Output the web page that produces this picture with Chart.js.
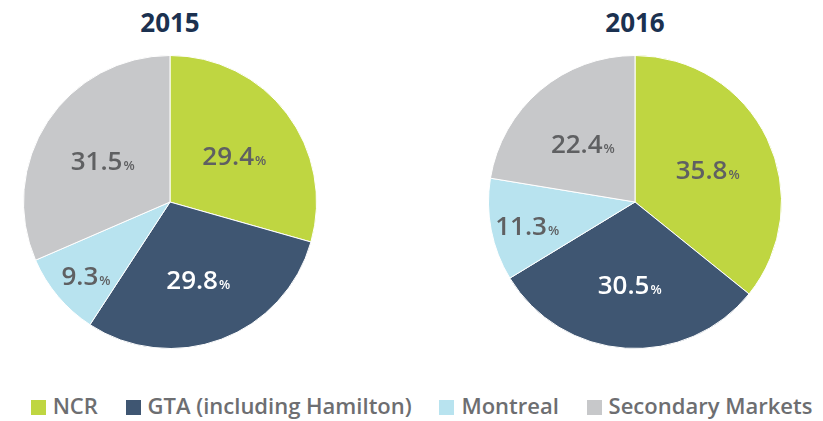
<!DOCTYPE html>
<html>
<head>
<meta charset="utf-8">
<script src="https://cdn.jsdelivr.net/npm/chart.js@4.4.1/dist/chart.umd.min.js"></script>
<style>
  html, body { margin: 0; padding: 0; background: #fff; }
  body { width: 823px; height: 421px; position: relative; overflow: hidden; font-family: "Open Sans", sans-serif; }
  .title { position: absolute; top: 5px; width: 200px; text-align: center; font-size: 26px; font-weight: 700; color: #1b3150; line-height: 34px; }
  .pie { position: absolute; top: 52px; width: 300px; height: 300px; }
  #legend { position: absolute; top: 391px; left: 10px; width: 823px; text-align: center; white-space: nowrap; font-size: 22px; font-weight: 600; color: #6d6e71; line-height: 28px; }
  .legend-item { display: inline-block; margin: 0 11px; }
  .swatch { display: inline-block; width: 15px; height: 15px; margin-right: 7px; vertical-align: -1px; }
</style>
</head>
<body>
<div class="title" style="left:70px">2015</div>
<div class="title" style="left:535px">2016</div>
<div class="pie" style="left:20px"><canvas id="pie2015" width="300" height="300"></canvas></div>
<div class="pie" style="left:485px"><canvas id="pie2016" width="300" height="300"></canvas></div>
<div id="legend"></div>
<script>
const categories = ['NCR', 'GTA (including Hamilton)', 'Montreal', 'Secondary Markets'];
const values2015 = [29.4, 29.8, 9.3, 31.5];
const values2016 = [35.8, 30.5, 11.3, 22.4];
const colors = ['#bfd641', '#3f5672', '#b8e3ef', '#c7c8ca'];
const labelColors = ['#5f6062', '#ffffff', '#5f6062', '#5f6062'];

// labels: big number + small % inside each slice
const sliceLabels = {
  id: 'sliceLabels',
  afterDatasetsDraw(chart) {
    const ctx = chart.ctx;
    const meta = chart.getDatasetMeta(0);
    const vals = chart.data.datasets[0].data;
    meta.data.forEach((arc, i) => {
      const p = arc.getProps(['x', 'y', 'startAngle', 'endAngle', 'outerRadius']);
      const mid = (p.startAngle + p.endAngle) / 2;
      const r = p.outerRadius * (vals[i] < 15 ? 0.75 : 0.55);
      const x = p.x + Math.cos(mid) * r;
      const y = p.y + Math.sin(mid) * r + 2;
      const num = vals[i].toFixed(1);
      ctx.save();
      ctx.fillStyle = labelColors[i];
      ctx.textBaseline = 'alphabetic';
      ctx.font = '600 26px "Open Sans"';
      const w1 = ctx.measureText(num).width;
      ctx.font = '600 13px "Open Sans"';
      const w2 = ctx.measureText('%').width;
      const x0 = x - (w1 + w2 + 1) / 2;
      ctx.font = '600 26px "Open Sans"';
      ctx.fillText(num, x0, y + 10);
      ctx.font = '600 13px "Open Sans"';
      ctx.fillText('%', x0 + w1 + 1, y + 10);
      ctx.restore();
    });
  }
};

function makePie(id, values) {
  return new Chart(document.getElementById(id), {
    type: 'pie',
    data: {
      labels: categories,
      datasets: [{
        data: values,
        backgroundColor: colors,
        borderColor: '#ffffff',
        borderWidth: 1
      }]
    },
    options: {
      responsive: false,
      animation: false,
      layout: { padding: 3 },
      plugins: { legend: { display: false }, tooltip: { enabled: false } }
    },
    plugins: [sliceLabels]
  });
}

makePie('pie2015', values2015);
makePie('pie2016', values2016);

document.getElementById('legend').innerHTML = categories.map((c, i) => `
  <span class="legend-item"><i class="swatch" style="background:${colors[i]}"></i>${c}</span>
`).join('');
</script>
</body>
</html>
